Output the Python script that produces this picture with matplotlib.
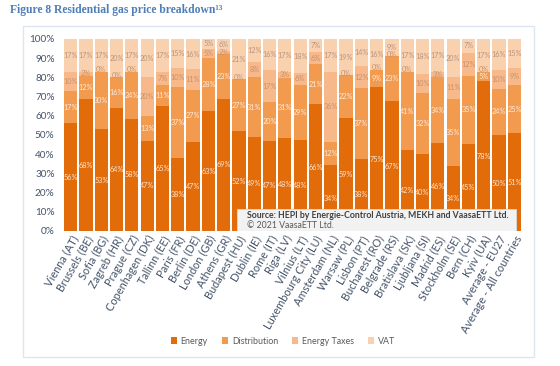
import numpy as np
import matplotlib.pyplot as plt
from matplotlib.patches import Rectangle

cities = ["Vienna (AT)", "Brussels (BE)", "Sofia (BG)", "Zagreb (HR)", "Prague (CZ)",
          "Copenhagen (DK)", "Tallinn (EE)", "Paris (FR)", "Berlin (DE)", "London (GB)",
          "Athens (GR)", "Budapest (HU)", "Dublin (IE)", "Rome (IT)", "Riga (LV)",
          "Vilnius (LT)", "Luxembourg City (LU)", "Amsterdam (NL)", "Warsaw (PL)",
          "Lisbon (PT)", "Bucharest (RO)", "Belgrade (RS)", "Bratislava (SK)",
          "Ljubljana (SI)", "Madrid (ES)", "Stockholm (SE)", "Bern (CH)", "Kyiv (UA)",
          "Average - EU27", "Average - All countries"]

energy = [56, 68, 53, 64, 58, 47, 65, 38, 47, 63, 69, 52, 49, 47, 48,
          48, 66, 34, 59, 38, 75, 67, 42, 40, 46, 34, 45, 78, 50, 51]
distribution = [17, 12, 30, 16, 24, 13, 11, 37, 27, 28, 23, 27, 31, 20, 31,
                29, 21, 12, 22, 37, 9, 23, 41, 32, 34, 35, 35, 5, 24, 25]
taxes = [10, 2, 0, 0, 0, 20, 7, 10, 11, 5, 2, 0, 8, 17, 3,
         6, 6, 36, 0, 12, 0, 0, 0, 10, 3, 11, 12, 0, 10, 9]
vat = [17, 17, 17, 20, 17, 20, 17, 15, 16, 5, 6, 21, 12, 16, 17,
       18, 7, 17, 19, 14, 16, 9, 17, 18, 17, 20, 7, 17, 16, 15]

series = [("Energy", energy, "#E36C0A", "#FBE3CF"),
          ("Distribution", distribution, "#F29A4E", "#FDEBDD"),
          ("Energy Taxes", taxes, "#F7B98A", "#C9906C"),
          ("VAT", vat, "#F9D1AE", "#B89580")]

W, H = 560, 366
fig = plt.figure(figsize=(W / 100, H / 100), dpi=100)
plt.rcParams['font.family'] = ['Lato', 'DejaVu Sans']

# outer frame
fig.patches.append(Rectangle((23 / W, 1 - 357 / H), (534 - 23) / W, (357 - 26) / H,
                             transform=fig.transFigure, fill=False,
                             edgecolor="#DCE6F1", linewidth=1.0))

fig.text(10 / W, 1 - 10 / H, "Figure 8 Residential gas price breakdown\u00b9\u00b3",
         family=["Liberation Serif", "DejaVu Serif"], weight="bold", fontsize=8.4,
         color="#4F7DB8", va="center", ha="left")

ax = fig.add_axes([63 / W, 1 - 231 / H, (522 - 63) / W, (231 - 39) / H])

x = np.arange(len(cities))
tot = np.array(energy) + np.array(distribution) + np.array(taxes) + np.array(vat)
bottom = np.zeros(len(cities))
for name, vals, col, tcol in series:
    h = np.array(vals) / tot * 100
    ax.bar(x, h, bottom=bottom, width=0.86, color=col, label=name, edgecolor="none")
    for i in range(len(cities)):
        yy = bottom[i] + h[i] / 2
        if vals[i] == 0:
            yy += 1.2
        ax.text(x[i], yy, f"{vals[i]}%", ha="center", va="center",
                fontsize=5.2, color=tcol)
    bottom += h

ax.set_xlim(-0.5, len(cities) - 0.5)
ax.set_ylim(0, 100)
ax.set_yticks(range(0, 101, 10))
ax.set_yticklabels([f"{v}%" for v in range(0, 101, 10)], fontsize=7.2, color="#44546A")
ax.set_xticks(x)
ax.set_xticklabels(cities, rotation=60, ha="right", rotation_mode="anchor",
                   fontsize=7.9, color="#44546A")
ax.tick_params(axis="y", length=0, pad=6)
ax.tick_params(axis="x", length=0, pad=2)
for s in ax.spines.values():
    s.set_visible(False)

# source box
ax.add_patch(Rectangle((237 / W, 1 - 231 / H), (516 - 237) / W, (231 - 209) / H,
                       transform=fig.transFigure, facecolor="#F2F2F2",
                       edgecolor="#D9D9D9", linewidth=0.6, zorder=5))
fig.text(247 / W, 1 - 215 / H,
         "Source: HEPI by Energie-Control Austria, MEKH and VaasaETT Ltd.",
         fontsize=6.3, weight="bold", color="#404040", va="center", zorder=6)
fig.text(247 / W, 1 - 225 / H, "\u00a9 2021 VaasaETT Ltd.",
         fontsize=6.3, color="#595959", va="center", zorder=6)

fig.legend(loc="center", bbox_to_anchor=(283 / W, 1 - 341 / H), ncol=4,
           frameon=False, fontsize=6.4, handlelength=0.7, handleheight=0.7,
           handletextpad=0.4, columnspacing=1.6, labelcolor="#595959")

fig.savefig("out.png", dpi=100)
